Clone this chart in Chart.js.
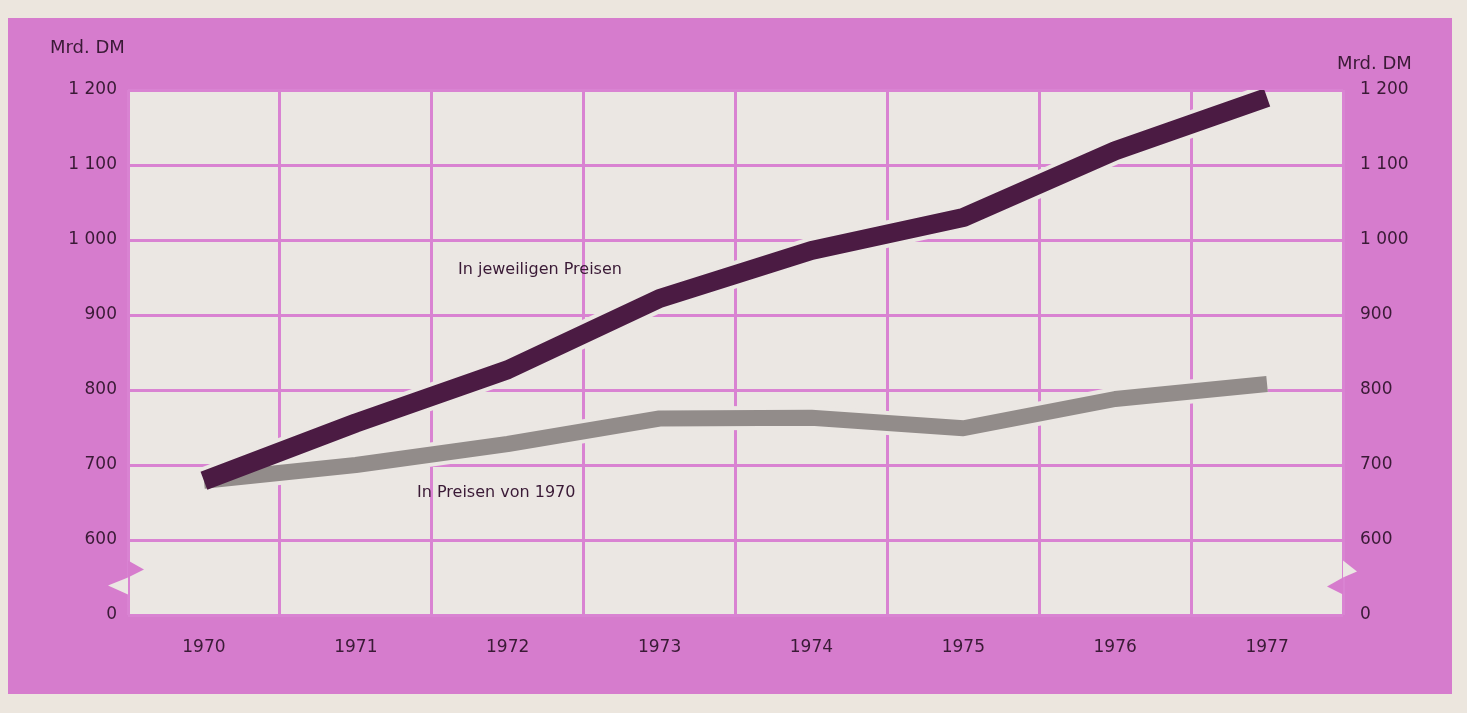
<!DOCTYPE html>
<html>
<head>
<meta charset="utf-8">
<script src="https://cdn.jsdelivr.net/npm/chart.js@4.4.1/dist/chart.umd.min.js"></script>
<style>
  html, body { margin: 0; padding: 0; background: #ece6de; }
  #wrap { width: 1467px; height: 713px; }
</style>
</head>
<body>
<div id="wrap"><canvas id="bspChart"></canvas></div>
<script>
// Bruttosozialprodukt, Mrd. DM
var years = ["1970", "1971", "1972", "1973", "1974", "1975", "1976", "1977"];
var jeweiligePreise = [679, 756, 827, 922, 986, 1030, 1119, 1190];
var preise1970 = [679, 700, 728, 762, 763, 749, 788, 808];
var yTicks = [500, 600, 700, 800, 900, 1000, 1100, 1200]; // 500 steht fuer die Achsenbruchstelle "0"

var pink = "#d67ccd";
var plotBg = "#ebe7e3";
var gridPink = "#d983d2";
var textColor = "#3a1a36";
var fontFam = "'DejaVu Sans', Verdana, sans-serif";

function tickLabel(v) {
  if (v === 500) return "0";
  if (v >= 1000) return Math.floor(v / 1000) + " " + String(v % 1000).padStart(3, "0");
  return String(v);
}

// hintergrund, rosa rahmen und graue zeichenflaeche
const backgroundPlugin = {
  id: "background",
  beforeDraw(chart) {
    const c = chart.ctx;
    const a = chart.chartArea;
    c.save();
    c.fillStyle = "#ece6de";
    c.fillRect(0, 0, chart.width, chart.height);
    c.fillStyle = pink;
    c.fillRect(8, 18, 1444, 676);
    c.fillStyle = plotBg;
    c.fillRect(a.left, a.top, a.right - a.left, a.bottom - a.top);
    c.restore();
  }
};

// achsenbruch, einheiten, beschriftung der linien
const decorPlugin = {
  id: "decor",
  afterDraw(chart) {
    const c = chart.ctx;
    const a = chart.chartArea;
    const y = chart.scales.y;
    const y600 = y.getPixelForValue(600);
    const y0 = y.getPixelForValue(500);
    const m = y600 + (y0 - y600) * 0.5;
    c.save();
    // links: rosa spitze nach innen, helle spitze nach aussen
    c.fillStyle = pink;
    c.beginPath();
    c.moveTo(a.left, m - 17);
    c.lineTo(a.left + 16, m - 8);
    c.lineTo(a.left, m);
    c.closePath();
    c.fill();
    c.fillStyle = plotBg;
    c.beginPath();
    c.moveTo(a.left, m);
    c.lineTo(a.left - 20, m + 8);
    c.lineTo(a.left, m + 17);
    c.closePath();
    c.fill();
    // rechts
    c.fillStyle = plotBg;
    c.beginPath();
    c.moveTo(a.right, m - 17);
    c.lineTo(a.right + 14, m - 6);
    c.lineTo(a.right, m);
    c.closePath();
    c.fill();
    c.fillStyle = pink;
    c.beginPath();
    c.moveTo(a.right, m);
    c.lineTo(a.right - 16, m + 9);
    c.lineTo(a.right, m + 17);
    c.closePath();
    c.fill();

    c.fillStyle = textColor;
    c.font = "18px " + fontFam;
    c.textBaseline = "middle";
    c.textAlign = "left";
    c.fillText("Mrd. DM", 50, 48);
    c.fillText("Mrd. DM", 1337, 64);
    c.font = "16px " + fontFam;
    c.fillText("In jeweiligen Preisen", 458, 270);
    c.fillText("In Preisen von 1970", 417, 493);
    c.restore();
  }
};

const ctx = document.getElementById("bspChart").getContext("2d");

new Chart(ctx, {
  type: "line",
  data: {
    labels: years,
    datasets: [
      {
        label: "In jeweiligen Preisen",
        data: jeweiligePreise,
        borderColor: "#4b1b43",
        borderWidth: 19,
        borderCapStyle: "butt",
        borderJoinStyle: "round",
        pointRadius: 0,
        tension: 0,
        order: 0
      },
      {
        label: "In Preisen von 1970",
        data: preise1970,
        borderColor: "#928c8a",
        borderWidth: 16,
        borderCapStyle: "butt",
        borderJoinStyle: "round",
        pointRadius: 0,
        tension: 0,
        order: 1
      },
      {
        // heller rand um die linien (gitter unterbrochen)
        data: jeweiligePreise,
        borderColor: plotBg,
        borderWidth: 27,
        borderCapStyle: "butt",
        pointRadius: 0,
        order: 2
      },
      {
        data: preise1970,
        borderColor: plotBg,
        borderWidth: 24,
        borderCapStyle: "butt",
        pointRadius: 0,
        order: 3
      }
    ]
  },
  options: {
    responsive: true,
    maintainAspectRatio: false,
    animation: false,
    layout: { padding: { top: 90, left: 0, right: 0, bottom: 0 } },
    plugins: {
      legend: { display: false },
      tooltip: { enabled: false }
    },
    scales: {
      x: {
        offset: true,
        grid: { offset: true, color: gridPink, lineWidth: 3, drawTicks: false },
        border: { display: false },
        ticks: {
          color: textColor,
          padding: 22,
          font: { size: 17, family: fontFam }
        },
        afterFit(scale) { scale.height = 98; }
      },
      y: {
        position: "left",
        min: 500,
        max: 1200,
        afterBuildTicks(scale) { scale.ticks = yTicks.map(v => ({ value: v })); },
        grid: { color: gridPink, lineWidth: 3, drawTicks: false },
        border: { display: false },
        ticks: {
          color: textColor,
          padding: 11,
          font: { size: 17, family: fontFam },
          callback: v => tickLabel(v)
        },
        afterFit(scale) { scale.width = 128; }
      },
      y2: {
        position: "right",
        min: 500,
        max: 1200,
        afterBuildTicks(scale) { scale.ticks = yTicks.map(v => ({ value: v })); },
        grid: { display: false },
        border: { display: false },
        ticks: {
          color: textColor,
          padding: 9,
          font: { size: 17, family: fontFam },
          callback: v => tickLabel(v)
        },
        afterFit(scale) { scale.width = 124; }
      }
    }
  },
  plugins: [backgroundPlugin, decorPlugin]
});
</script>
</body>
</html>
